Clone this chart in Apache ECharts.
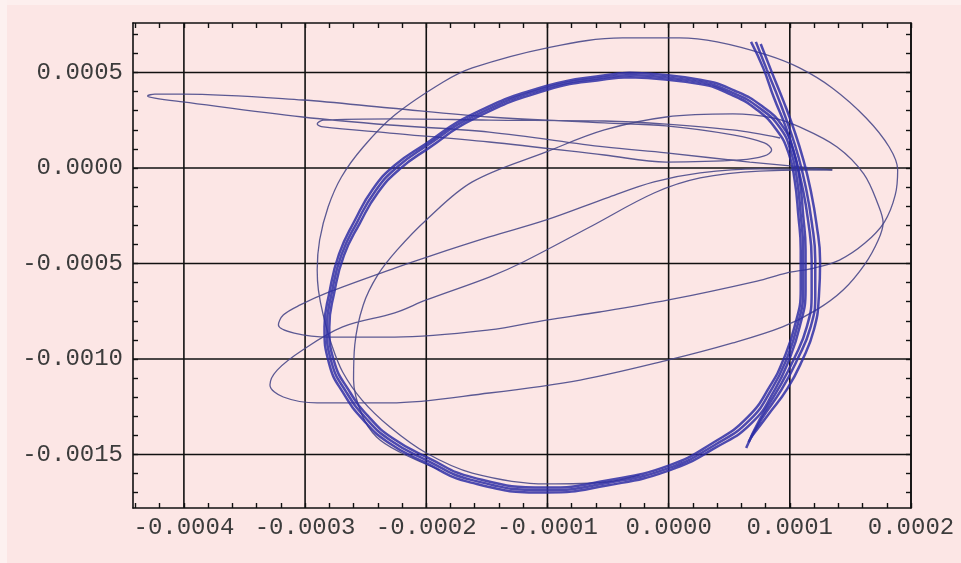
<!DOCTYPE html>
<html>
<head>
<meta charset="utf-8">
<script src="https://cdn.jsdelivr.net/npm/echarts@6/dist/echarts.min.js"></script>
<style>
  html, body { margin: 0; padding: 0; background: #fce6e5; }
  #chart { width: 961px; height: 563px; }
</style>
</head>
<body>
<div id="chart"></div>
<script>
// Axis extents and labelled tick values
const X_RANGE = [-0.000442, 0.0002];
const Y_RANGE = [-0.00178, 0.000759];
const X_MAJOR = [-0.0004, -0.0003, -0.0002, -0.0001, 0, 0.0001, 0.0002];
const Y_MAJOR = [-0.0015, -0.001, -0.0005, 0, 0.0005];
const X_MINOR_STEP = 0.00002;
const Y_MINOR_STEP = 0.0001;

// Trajectory pieces, [x, y]
// Thin outer excursion: large outer loop, return sweep and upper-left hook
const outerLoop = [
  [-0.24e-4,-16.07e-4],[-0.51e-4,-16.44e-4],[-1.01e-4,-16.54e-4],[-1.62e-4,-15.97e-4],
  [-2.00e-4,-14.92e-4],[-2.30e-4,-13.56e-4],[-2.53e-4,-12.15e-4],[-2.69e-4,-10.68e-4],
  [-2.78e-4,-9.27e-4],[-2.85e-4,-7.70e-4],[-2.89e-4,-6.39e-4],[-2.90e-4,-5.34e-4],
  [-2.88e-4,-3.77e-4],[-2.81e-4,-2.04e-4],[-2.70e-4,-0.47e-4],[-2.52e-4,1.10e-4],
  [-2.26e-4,2.77e-4],[-1.86e-4,4.50e-4],[-1.62e-4,5.24e-4],[-1.01e-4,6.28e-4],
  [-0.38e-4,6.81e-4],[0.09e-4,6.81e-4],[0.40e-4,6.60e-4],[0.81e-4,5.92e-4],
  [1.08e-4,5.24e-4],[1.35e-4,4.19e-4],[1.63e-4,2.62e-4],[1.82e-4,1.10e-4],
  [1.89e-4,-0.10e-4],[1.87e-4,-1.41e-4],[1.78e-4,-2.83e-4],[1.62e-4,-3.93e-4],
  [1.41e-4,-4.82e-4],[1.20e-4,-5.24e-4],[0.97e-4,-5.50e-4],[0.73e-4,-5.92e-4],
  [0,-6.91e-4],[-0.57e-4,-7.54e-4],[-1.01e-4,-7.96e-4],[-1.48e-4,-8.48e-4],
  [-2.26e-4,-8.85e-4],[-2.80e-4,-8.85e-4],[-3.09e-4,-8.64e-4],[-3.22e-4,-8.22e-4],
  [-3.18e-4,-7.70e-4],[-3.04e-4,-7.17e-4],[-2.80e-4,-6.49e-4],[-2.26e-4,-5.24e-4],
  [-1.97e-4,-4.61e-4],[-1.48e-4,-3.61e-4],[-1.01e-4,-2.72e-4],[-0.49e-4,-1.52e-4],
  [-0.12e-4,-0.73e-4],[0.26e-4,-0.26e-4],[0.75e-4,-0.05e-4],[1.35e-4,-0.10e-4]
];

// Thin inner excursion: inner arc, right loop, lower-left hook
const innerLoop = [
  [-1.89e-4,-15.81e-4],[-2.22e-4,-14.87e-4],[-2.41e-4,-14.08e-4],[-2.53e-4,-12.93e-4],
  [-2.60e-4,-11.10e-4],[-2.59e-4,-9.27e-4],[-2.52e-4,-7.17e-4],[-2.40e-4,-5.60e-4],
  [-2.24e-4,-4.29e-4],[-2.00e-4,-2.72e-4],[-1.62e-4,-0.73e-4],[-1.01e-4,0.84e-4],
  [-0.53e-4,1.99e-4],[-0.02e-4,2.67e-4],[0.53e-4,2.83e-4],[0.86e-4,2.62e-4],
  [1.08e-4,2.15e-4],[1.39e-4,1.10e-4],[1.61e-4,-0.31e-4],[1.73e-4,-1.94e-4],
  [1.77e-4,-2.88e-4],[1.73e-4,-3.77e-4],[1.62e-4,-5.03e-4],[1.44e-4,-6.39e-4],[1.22e-4,-7.43e-4],
  [0.94e-4,-8.32e-4],[0.53e-4,-9.16e-4],[0,-10.05e-4],[-0.73e-4,-11.10e-4],
  [-1.48e-4,-11.78e-4],[-2.30e-4,-12.30e-4],[-2.90e-4,-12.30e-4],[-3.18e-4,-11.99e-4],
  [-3.29e-4,-11.36e-4],[-3.23e-4,-10.58e-4],[-3.02e-4,-9.53e-4],[-2.69e-4,-8.32e-4],
  [-2.26e-4,-7.59e-4],[-2.00e-4,-6.91e-4],[-1.48e-4,-5.71e-4],[-1.20e-4,-4.92e-4],
  [-0.65e-4,-3.09e-4],[-0.12e-4,-1.31e-4],[0.26e-4,-0.52e-4],[0.75e-4,-0.16e-4],
  [1.35e-4,-0.10e-4]
];

// Thin long horizontal loops reaching far to the left
const longLoops = [
  [1.35e-4,-0.10e-4],[0.67e-4,0.31e-4],[-0.02e-4,0.79e-4],[-0.53e-4,1.10e-4],
  [-1.48e-4,1.88e-4],[-2.30e-4,2.25e-4],[-3.02e-4,2.67e-4],[-4.01e-4,3.46e-4],
  [-4.24e-4,3.66e-4],[-4.30e-4,3.77e-4],[-4.24e-4,3.87e-4],[-4.01e-4,3.87e-4],
  [-3.02e-4,3.56e-4],[-2.30e-4,3.14e-4],[-1.48e-4,2.67e-4],[-0.53e-4,2.36e-4],
  [-0.02e-4,2.20e-4],[0.53e-4,1.73e-4],[0.79e-4,1.31e-4],[0.85e-4,0.94e-4],
  [0.79e-4,0.63e-4],[0.59e-4,0.42e-4],[-0.02e-4,0.31e-4],[-0.53e-4,0.68e-4],
  [-1.48e-4,1.36e-4],[-2.30e-4,1.83e-4],[-2.85e-4,2.15e-4],[-2.90e-4,2.30e-4],
  [-2.85e-4,2.51e-4],[-2.26e-4,2.57e-4],[-1.48e-4,2.51e-4],[-0.53e-4,2.46e-4],
  [-0.02e-4,2.30e-4],[0.53e-4,1.99e-4],[0.92e-4,1.57e-4]
];

// Main recurring cycle, three close passes
const cycleA = [
  [-0.32e-4,4.87e-4],[0.26e-4,4.50e-4],[0.53e-4,3.93e-4],[0.75e-4,3.14e-4],[0.92e-4,2.09e-4],
  [1.01e-4,0.84e-4],[1.06e-4,-0.63e-4],[1.09e-4,-2.46e-4],[1.11e-4,-4.29e-4],[1.11e-4,-6.39e-4],
  [1.06e-4,-8.32e-4],[0.97e-4,-10.05e-4],[0.86e-4,-11.47e-4],[0.67e-4,-13.19e-4],[0.38e-4,-14.50e-4],
  [0,-15.71e-4],[-0.51e-4,-16.49e-4],[-1.01e-4,-16.86e-4],[-1.62e-4,-16.34e-4],[-2.00e-4,-15.29e-4],
  [-2.30e-4,-14.24e-4],[-2.50e-4,-13.09e-4],[-2.66e-4,-11.73e-4],[-2.78e-4,-10.21e-4],[-2.82e-4,-8.32e-4],
  [-2.78e-4,-6.54e-4],[-2.70e-4,-4.55e-4],[-2.57e-4,-2.83e-4],[-2.42e-4,-1.20e-4],[-2.24e-4,0.05e-4],
  [-2.00e-4,1.15e-4],[-1.62e-4,2.67e-4],[-1.01e-4,4.19e-4],[-0.51e-4,4.76e-4],[-0.32e-4,4.87e-4]
];
const cycleB = [
  [-0.32e-4,4.75e-4],[0.26e-4,4.39e-4],[0.52e-4,3.83e-4],[0.73e-4,3.04e-4],[0.89e-4,2.00e-4],
  [0.99e-4,0.78e-4],[1.04e-4,-0.65e-4],[1.07e-4,-2.46e-4],[1.09e-4,-4.29e-4],[1.09e-4,-6.39e-4],
  [1.04e-4,-8.29e-4],[0.95e-4,-9.99e-4],[0.84e-4,-11.38e-4],[0.65e-4,-13.06e-4],[0.37e-4,-14.37e-4],
  [0,-15.58e-4],[-0.51e-4,-16.36e-4],[-1.01e-4,-16.73e-4],[-1.61e-4,-16.21e-4],[-1.98e-4,-15.19e-4],
  [-2.28e-4,-14.14e-4],[-2.48e-4,-12.99e-4],[-2.64e-4,-11.63e-4],[-2.76e-4,-10.14e-4],[-2.80e-4,-8.32e-4],
  [-2.76e-4,-6.54e-4],[-2.68e-4,-4.59e-4],[-2.55e-4,-2.91e-4],[-2.40e-4,-1.30e-4],[-2.22e-4,-0.06e-4],
  [-1.98e-4,1.04e-4],[-1.61e-4,2.57e-4],[-1.00e-4,4.09e-4],[-0.51e-4,4.66e-4],[-0.32e-4,4.75e-4]
];
const cycleC = [
  [-0.32e-4,4.98e-4],[0.27e-4,4.61e-4],[0.55e-4,4.03e-4],[0.77e-4,3.24e-4],[0.94e-4,2.19e-4],
  [1.03e-4,0.90e-4],[1.08e-4,-0.57e-4],[1.11e-4,-2.46e-4],[1.13e-4,-4.29e-4],[1.13e-4,-6.39e-4],
  [1.08e-4,-8.35e-4],[0.99e-4,-10.10e-4],[0.88e-4,-11.56e-4],[0.69e-4,-13.32e-4],[0.39e-4,-14.63e-4],
  [0,-15.84e-4],[-0.51e-4,-16.62e-4],[-1.01e-4,-16.99e-4],[-1.63e-4,-16.47e-4],[-2.02e-4,-15.39e-4],
  [-2.32e-4,-14.34e-4],[-2.52e-4,-13.19e-4],[-2.68e-4,-11.83e-4],[-2.80e-4,-10.28e-4],[-2.84e-4,-8.32e-4],
  [-2.80e-4,-6.54e-4],[-2.72e-4,-4.51e-4],[-2.59e-4,-2.75e-4],[-2.44e-4,-1.10e-4],[-2.26e-4,0.14e-4],
  [-2.01e-4,1.24e-4],[-1.63e-4,2.78e-4],[-1.01e-4,4.29e-4],[-0.51e-4,4.87e-4],[-0.32e-4,4.98e-4]
];

// Steep band on the right, from the top spike down to the tail
const bandA = [
  [0.68e-4,6.60e-4],[0.78e-4,5.24e-4],[0.87e-4,3.66e-4],[0.97e-4,2.09e-4],[1.04e-4,0.68e-4],
  [1.10e-4,-0.89e-4],[1.15e-4,-2.72e-4],[1.18e-4,-4.82e-4],[1.18e-4,-6.54e-4],[1.14e-4,-8.32e-4],
  [1.03e-4,-10.05e-4],[0.90e-4,-11.62e-4],[0.75e-4,-13.19e-4],[0.64e-4,-14.66e-4]
];
const bandB = [
  [0.72e-4,6.60e-4],[0.81e-4,5.15e-4],[0.91e-4,3.58e-4],[1.00e-4,2.02e-4],[1.07e-4,0.61e-4],
  [1.13e-4,-0.96e-4],[1.18e-4,-2.80e-4],[1.21e-4,-4.82e-4],[1.21e-4,-6.62e-4],[1.17e-4,-8.36e-4],
  [1.06e-4,-10.05e-4],[0.93e-4,-11.62e-4],[0.77e-4,-13.12e-4],[0.66e-4,-14.35e-4]
];
const bandC = [
  [0.76e-4,6.49e-4],[0.85e-4,5.03e-4],[0.95e-4,3.46e-4],[1.04e-4,1.90e-4],[1.11e-4,0.46e-4],
  [1.17e-4,-1.10e-4],[1.22e-4,-2.93e-4],[1.25e-4,-4.88e-4],[1.24e-4,-6.72e-4],[1.20e-4,-8.44e-4],
  [1.10e-4,-10.10e-4],[0.98e-4,-11.55e-4],[0.82e-4,-12.93e-4],[0.68e-4,-14.10e-4]
];

// Tick positions: every minor step inside the axis range
function ticksBetween(range, step) {
  const out = [];
  const k0 = Math.ceil(range[0] / step - 1e-9);
  const k1 = Math.floor(range[1] / step + 1e-9);
  for (let k = k0; k <= k1; k++) out.push(+(k * step).toFixed(6));
  return out;
}
const xTicks = ticksBetween(X_RANGE, X_MINOR_STEP);
const yTicks = ticksBetween(Y_RANGE, Y_MINOR_STEP);

const INK = '#111';
const LABEL_FONT = {
  fontFamily: '"Liberation Mono", "DejaVu Sans Mono", monospace',
  fontSize: 24,
  color: '#3c3c3c'
};

function xAxisDef(position, withLabels) {
  return {
    type: 'value', position, min: X_RANGE[0], max: X_RANGE[1],
    axisLine: { show: true, onZero: false, lineStyle: { color: INK, width: 1.6 } },
    axisTick: { show: true, inside: true, length: 5, customValues: xTicks, lineStyle: { color: INK, width: 1.4 } },
    axisLabel: withLabels
      ? Object.assign({ show: true, customValues: X_MAJOR, margin: 8, formatter: v => v.toFixed(4) }, LABEL_FONT)
      : { show: false },
    splitLine: { show: false }
  };
}
function yAxisDef(position, withLabels) {
  return {
    type: 'value', position, min: Y_RANGE[0], max: Y_RANGE[1],
    axisLine: { show: true, onZero: false, lineStyle: { color: INK, width: 1.6 } },
    axisTick: { show: true, inside: true, length: 5, customValues: yTicks, lineStyle: { color: INK, width: 1.4 } },
    axisLabel: withLabels
      ? Object.assign({ show: true, customValues: Y_MAJOR, margin: 10, formatter: v => v.toFixed(4) }, LABEL_FONT)
      : { show: false },
    splitLine: { show: false }
  };
}

function strand(name, data, thick) {
  return {
    name, type: 'line', data, xAxisIndex: 0, yAxisIndex: 0,
    showSymbol: false, symbol: 'none', smooth: thick ? 0.5 : 0.35, silent: true,
    z: thick ? 4 : 3,
    lineStyle: thick
      ? { color: 'rgba(46,46,166,0.85)', width: 2.5 }
      : { color: 'rgba(70,70,135,0.88)', width: 1.3 }
  };
}

// Major grid lines, one two-point segment per labelled tick
function gridSeries() {
  const segs = [];
  X_MAJOR.forEach(v => segs.push([[v, Y_RANGE[0]], [v, Y_RANGE[1]]]));
  Y_MAJOR.forEach(v => segs.push([[X_RANGE[0], v], [X_RANGE[1], v]]));
  return segs.map((d, i) => ({
    name: 'grid' + i, type: 'line', data: d, showSymbol: false, symbol: 'none',
    silent: true, z: 1, lineStyle: { color: INK, width: 1.6 }
  }));
}

const chart = echarts.init(document.getElementById('chart'), null, { renderer: 'canvas' });
chart.setOption({
  animation: false,
  backgroundColor: '#fce6e5',
  graphic: [
    { type: 'rect', left: 0, top: 0, shape: { width: 961, height: 5 }, style: { fill: '#fdefee' }, silent: true },
    { type: 'rect', left: 0, top: 0, shape: { width: 7, height: 563 }, style: { fill: '#fdf1f0' }, silent: true }
  ],
  grid: { left: 133, top: 23, width: 778, height: 485, containLabel: false },
  xAxis: [xAxisDef('bottom', true), xAxisDef('top', false)],
  yAxis: [yAxisDef('left', true), yAxisDef('right', false)],
  series: gridSeries().concat([
    strand('outer', outerLoop, false),
    strand('inner', innerLoop, false),
    strand('long', longLoops, false),
    strand('cycleA', cycleA, true),
    strand('cycleB', cycleB, true),
    strand('cycleC', cycleC, true),
    strand('bandA', bandA, true),
    strand('bandB', bandB, true),
    strand('bandC', bandC, true)
  ])
});
</script>
</body>
</html>
